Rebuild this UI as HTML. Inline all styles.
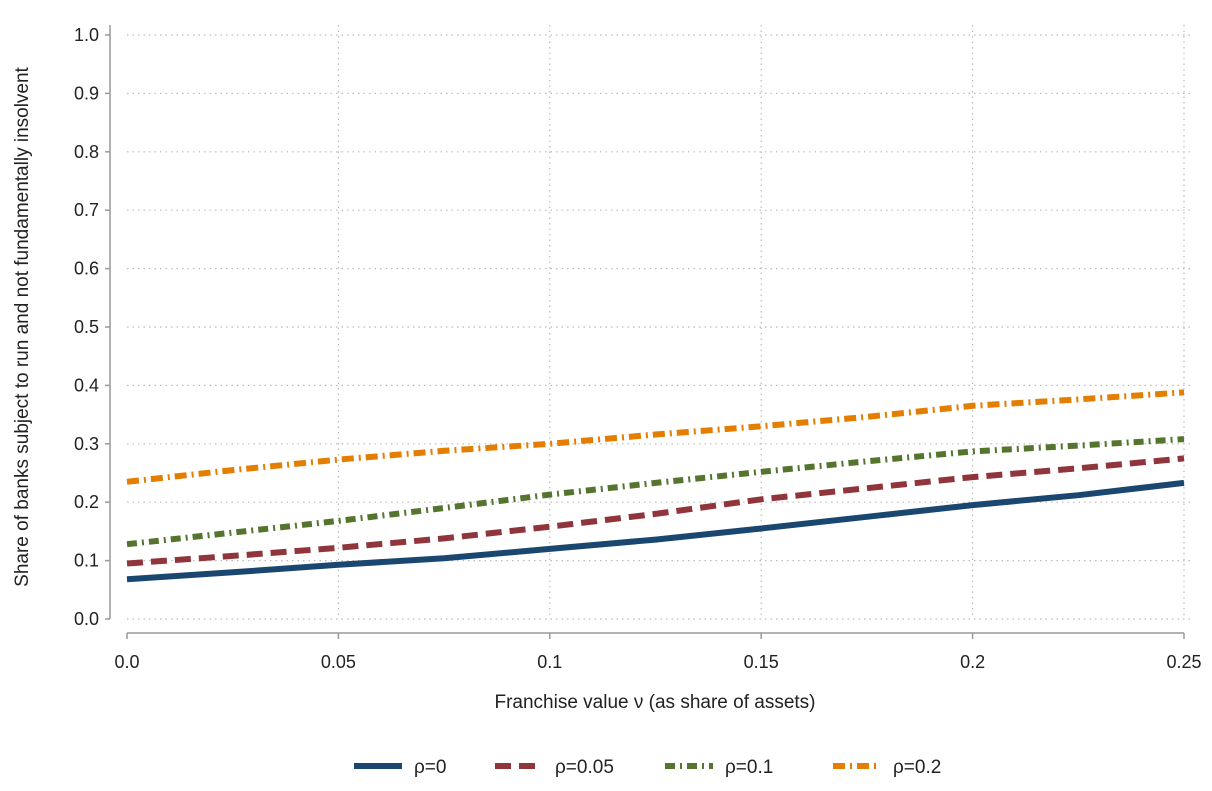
<!DOCTYPE html>
<html><head><meta charset="utf-8"><style>
body{margin:0;background:#fff;font-family:"Liberation Sans",sans-serif;}
svg text{font-family:"Liberation Sans",sans-serif;fill:#222;}
</style></head><body>
<svg id="chart" width="1212" height="786" xmlns="http://www.w3.org/2000/svg">
<rect width="1212" height="786" fill="#fff"/>
<g id="grid"></g>
<g id="axes"></g>
<g id="series"></g>
<text x="655" y="708" font-size="19" text-anchor="middle">Franchise value ν (as share of assets)</text>
<text transform="translate(28,327) rotate(-90)" font-size="19" text-anchor="middle">Share of banks subject to run and not fundamentally insolvent</text>
<g id="legend"></g>
</svg>
<script>
const xs = [0,0.025,0.05,0.075,0.1,0.125,0.15,0.175,0.2,0.225,0.25];
const s0 = [0.068,0.080,0.093,0.104,0.120,0.136,0.155,0.175,0.195,0.212,0.233];
const s05 = [0.095,0.108,0.122,0.138,0.158,0.180,0.205,0.224,0.243,0.258,0.275];
const s1 = [0.128,0.148,0.168,0.190,0.213,0.233,0.252,0.270,0.287,0.297,0.308];
const s2 = [0.235,0.255,0.273,0.288,0.300,0.316,0.330,0.346,0.365,0.376,0.388];
const seriesLabels = ["ρ=0","ρ=0.05","ρ=0.1","ρ=0.2"];
const xTicks = [0,0.05,0.1,0.15,0.2,0.25];
const xTickLabels = ["0.0","0.05","0.1","0.15","0.2","0.25"];
const yTicks = [0,0.1,0.2,0.3,0.4,0.5,0.6,0.7,0.8,0.9,1.0];

const NS="http://www.w3.org/2000/svg";
const X0=127,X1=1184,Y0=619,Y1=35;
const sx=v=>X0+(v/0.25)*(X1-X0);
const sy=v=>Y0-v*(Y0-Y1);
function mk(tag,attrs,parent){const e=document.createElementNS(NS,tag);for(const k in attrs)e.setAttribute(k,attrs[k]);parent.appendChild(e);return e;}
const grid=document.getElementById('grid'),axes=document.getElementById('axes'),ser=document.getElementById('series'),leg=document.getElementById('legend');

yTicks.forEach(t=>{
  const g=mk('line',{x1:X0,x2:X1+8,y1:sy(t),y2:sy(t),stroke:'#bbb','stroke-width':1.2,'stroke-dasharray':'1.5 4'},grid);
  
  
  const tk=mk('line',{x1:X0-22,x2:X0-17,y1:sy(t),y2:sy(t),stroke:'#999','stroke-width':1.5},axes);
  
  
  const tx=mk('text',{x:X0-28,y:sy(t)+6,'font-size':18,'text-anchor':'end'},axes);
  tx.textContent=t.toFixed(1);
  
  
});
xTicks.forEach((t,i)=>{
  if(i>0){const g=mk('line',{x1:sx(t),x2:sx(t),y1:Y1-10,y2:Y0,stroke:'#bbb','stroke-width':1.2,'stroke-dasharray':'1.5 4'},grid);
  
  }
  const tk=mk('line',{x1:sx(t),x2:sx(t),y1:Y0+14,y2:Y0+20,stroke:'#999','stroke-width':1.5},axes);
  
  
  const tx=mk('text',{x:sx(t),y:Y0+49,'font-size':18,'text-anchor':'middle'},axes);
  tx.textContent=xTickLabels[i];
  
  
});
const ya=mk('line',{x1:X0-17,x2:X0-17,y1:Y1-10,y2:Y0,stroke:'#999','stroke-width':1.5},axes);


const xa=mk('line',{x1:X0,x2:X1,y1:Y0+14,y2:Y0+14,stroke:'#999','stroke-width':1.5},axes);



const data=[s0,s05,s1,s2];
const colors=['#1a476f','#90353b','#55752f','#e37e00'];
const dashes=['none','16 8','10 5 2 5','12 5 2 5'];
const names=['series-rho-0','series-rho-005','series-rho-01','series-rho-02'];
data.forEach((arr,k)=>{
  const d=arr.map((v,i)=>(i?'L':'M')+sx(xs[i]).toFixed(1)+','+sy(v).toFixed(1)).join(' ');
  const p=mk('path',{d:d,fill:'none',stroke:colors[k],'stroke-width':6,'stroke-dasharray':dashes[k]},ser);
  
  
});
const lx=[354,495,665,833];
seriesLabels.forEach((l,k)=>{
  const ln=mk('line',{x1:lx[k],x2:lx[k]+48,y1:766,y2:766,stroke:colors[k],'stroke-width':6,'stroke-dasharray':dashes[k]},leg);
  
  
  const t=mk('text',{x:lx[k]+60,y:773,'font-size':19},leg);
  t.textContent=l;
  
  
});
</script>
</body></html>
